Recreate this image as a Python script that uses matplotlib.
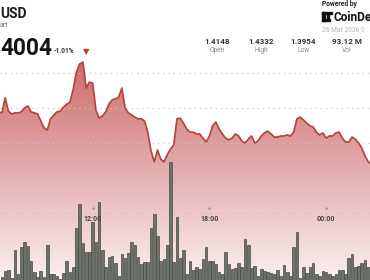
import numpy as np
import matplotlib
matplotlib.use("Agg")
import matplotlib.pyplot as plt
from matplotlib.patches import Rectangle
from matplotlib.transforms import blended_transform_factory

plt.rcParams['font.family'] = ['Roboto', 'DejaVu Sans']

# ---------------- data ----------------
price_start_min = 430          # 07:10, minutes since midnight
price_step_min = 10
price = [
    1.4189, 1.4186, 1.4229, 1.4191, 1.4183, 1.4186, 1.4186, 1.4189, 1.4200, 1.4206,
    1.4189, 1.4186, 1.4183, 1.4163, 1.4143, 1.4137, 1.4169, 1.4180, 1.4189, 1.4191,
    1.4203, 1.4211, 1.4217, 1.4254, 1.4303, 1.4326, 1.4331, 1.4257, 1.4274, 1.4271,
    1.4194, 1.4171, 1.4177, 1.4189, 1.4211, 1.4223, 1.4226, 1.4231, 1.4257, 1.4200,
    1.4186, 1.4180, 1.4174, 1.4169, 1.4169, 1.4163, 1.4131, 1.4077, 1.4046, 1.4080,
    1.4054, 1.4046, 1.4066, 1.4083, 1.4094, 1.4169, 1.4171, 1.4157, 1.4140, 1.4131,
    1.4131, 1.4126, 1.4126, 1.4114, 1.4103, 1.4120, 1.4149, 1.4160, 1.4140, 1.4126,
    1.4114, 1.4109, 1.4114, 1.4126, 1.4120, 1.4106, 1.4100, 1.4111, 1.4120, 1.4100,
    1.4106, 1.4120, 1.4129, 1.4134, 1.4126, 1.4117, 1.4117, 1.4120, 1.4120, 1.4123,
    1.4120, 1.4131, 1.4169, 1.4174, 1.4166, 1.4157, 1.4149, 1.4146, 1.4131, 1.4123,
    1.4129, 1.4114, 1.4120, 1.4120, 1.4129, 1.4131, 1.4114, 1.4103, 1.4103, 1.4117,
    1.4111, 1.4100, 1.4086, 1.4063, 1.4046, 1.4040,
]

vol_start_min = 440            # 07:20
vol_step_min = 10
volume_m = [
    0.11, 0.29, 0.32, 0.05, 0.96, 0.18, 1.07, 1.21, 1.10, 0.61,
    0.27, 0.11, 0.29, 0.11, 1.12, 0.18, 0.18, 0.14, 0.03, 0.21,
    0.61, 0.25, 0.43, 1.67, 2.42, 1.19, 0.89, 0.91, 1.87, 1.23,
    2.49, 0.96, 0.43, 0.75, 0.77, 0.53, 0.14, 0.82, 0.69, 0.85,
    1.23, 1.12, 0.75, 0.51, 0.57, 0.59, 1.67, 2.10, 1.42, 0.61,
    0.67, 1.12, 3.78, 0.59, 2.03, 0.69, 0.96,
    0.18, 0.61, 0.32, 0.43, 0.35, 0.67, 1.07, 0.61, 0.61, 0.50,
    0.27, 0.18, 0.91, 0.50, 0.35, 0.39, 0.53, 0.43, 1.30, 1.12,
    0.39, 0.46, 0.14, 0.35, 0.29, 0.25, 0.21, 0.18, 0.32, 0.14,
    0.48, 0.25, 0.14, 1.07, 1.53, 0.07, 0.43, 0.21, 0.43, 0.53,
    0.18, 0.14, 0.29, 0.27, 0.18, 0.14, 0.18, 0.32, 0.32, 0.18,
    0.69, 0.82, 0.43, 0.46, 0.53, 0.64, 0.43,
]

grid_levels = [1.43, 1.42, 1.41, 1.40, 1.39]
tick_minutes = [720, 1080, 1440]
tick_labels = ["12:00", "18:00", "00:00"]

stat_values = ["1.4148", "1.4332", "1.3954", "93.12 M"]
stat_names = ["Open", "High", "Low", "Vol"]

# ---------------- figure ----------------
W, H = 370, 280
fig = plt.figure(figsize=(W / 100, H / 100), dpi=100)
fig.patch.set_facecolor("white")

def fx(x):
    return x / W

def fy(y):
    return 1 - y / H

t_price = price_start_min + price_step_min * np.arange(len(price))
t_vol = vol_start_min + vol_step_min * np.arange(len(volume_m))
p = np.array(price)

x_lo, x_hi = 434.1, 1575.4
y_lo, y_hi = 1.370857, 1.450857

ax = fig.add_axes([0, 0, 1, 1])
ax.set_xlim(x_lo, x_hi)
ax.set_ylim(y_lo, y_hi)
ax.axis("off")

# gradient area fill
n = 256
g = np.linspace(0, 1, n)[:, None]
top_c = np.array([206, 108, 108]) / 255
bot_c = np.array([251, 240, 240]) / 255
img = (top_c[None, None, :] * (1 - g[..., None]) + bot_c[None, None, :] * g[..., None])
img = np.repeat(img, 2, axis=1)
im = ax.imshow(img, extent=[x_lo, x_hi, y_lo, p.max()], origin="upper",
               aspect="auto", zorder=1, interpolation="bilinear")
poly = ax.fill_between(t_price, p, y_lo, facecolor="none", edgecolor="none")
im.set_clip_path(poly.get_paths()[0], transform=ax.transData)

for lv in grid_levels:
    ax.axhline(lv, color="#c4c4c4", lw=0.9, linestyle=(0, (1, 3.2)), zorder=2)

ax.plot(t_price, p, color="#b9433f", lw=1.25, zorder=4, solid_joinstyle="round")

# volume
vax = ax.twinx()
vax.set_ylim(0, 8.96)
vax.set_xlim(x_lo, x_hi)
vax.axis("off")
vax.bar(t_vol, volume_m, width=8.2, color="#6c7269", edgecolor="#464b44",
        linewidth=0.5, zorder=3)

trans = blended_transform_factory(vax.transData, vax.transAxes)
vax.scatter(tick_minutes, [fy(207.5)] * len(tick_minutes), s=0.6,
            color="#999999", transform=trans, zorder=5)
for tm, lab in zip(tick_minutes, tick_labels):
    vax.text(tm, fy(219), lab, transform=trans, ha="center", va="center",
             fontsize=5, fontweight="bold", color="#444444", zorder=6)

# ---------------- header ----------------
fig.text(fx(0), fy(18), "USD", fontsize=10, fontweight="bold", color="#1c1c1c",
         ha="left", va="baseline")
fig.text(fx(0), fy(27), "art", fontsize=5, color="#777777", ha="left", va="baseline")
fig.text(fx(0), fy(55), "4004", fontsize=16.3, fontweight="bold", color="#151515",
         ha="left", va="baseline")
fig.text(fx(54), fy(53), "-1.01%", fontsize=4.8, fontweight="bold", color="#333333",
         ha="left", va="baseline")
fig.text(fx(86.5), fy(51.5), "▼", fontsize=6, color="#c0392b", ha="center", va="center",
         family="DejaVu Sans")

centers = [217, 261, 303.5, 347]
for cx, v, nm in zip(centers, stat_values, stat_names):
    fig.text(fx(cx), fy(44), v, fontsize=5.8, fontweight="bold", color="#333333",
             ha="center", va="baseline")
    fig.text(fx(cx), fy(52.5), nm, fontsize=4.8, color="#888888",
             ha="center", va="baseline")

fig.text(fx(322), fy(5.5), "Powered by", fontsize=4.8, fontweight="bold", color="#222222",
         ha="left", va="baseline")
# CoinDesk icon (simple block mark)
for (x0, y0, w, h) in [(322, 12, 2.5, 9), (322, 12, 8, 2.2), (322, 18.8, 8, 2.2),
                       (327, 15.3, 2.2, 2.2), (330, 12, 1.6, 1.6)]:
    fig.patches.append(Rectangle((fx(x0), fy(y0 + h)), w / W, h / H,
                                 transform=fig.transFigure, color="#111111"))
fig.text(fx(333), fy(21), "CoinDe", fontsize=8.6, fontweight="bold", color="#111111",
         ha="left", va="baseline")
fig.text(fx(322), fy(32), "26 Mar 2026 0", fontsize=4.8, color="#b5b5b5",
         ha="left", va="baseline")

fig.savefig("out.png", dpi=100, facecolor="white")
